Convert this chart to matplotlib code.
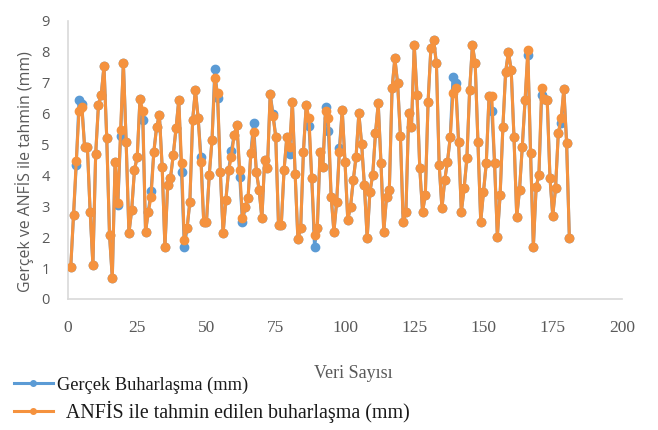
import matplotlib
matplotlib.use("Agg")
import matplotlib.pyplot as plt
import numpy as np

gercek = [
    1.03, 2.72, 4.35, 6.45, 6.30, 4.93, 4.93, 2.82, 1.10, 4.69,
    6.28, 6.61, 7.54, 5.20, 2.07, 0.67, 4.43, 3.05, 5.28, 7.65,
    5.09, 2.13, 2.88, 4.17, 4.61, 6.49, 5.80, 2.18, 2.82, 3.50,
    4.77, 5.57, 5.96, 4.28, 1.67, 3.69, 3.91, 4.66, 5.52, 6.44,
    4.10, 1.69, 2.29, 3.15, 5.79, 6.77, 5.85, 4.60,
    2.50, 2.50, 4.01, 5.15, 7.44, 6.50, 4.12, 2.12, 3.21, 4.17,
    4.80, 5.31, 5.63, 3.95, 2.48, 2.99, 3.26, 4.71, 5.70, 4.12,
    3.53, 2.61, 4.50, 4.23, 6.64, 6.00, 5.26, 2.40, 2.40, 4.17,
    5.24, 4.70, 6.39, 4.06, 1.93, 2.29, 4.77, 6.28, 5.60, 3.91,
    1.69, 2.29, 4.77, 4.28, 6.20, 5.45, 3.31, 2.18, 3.15, 4.90,
    6.12,
    4.45, 2.56, 2.99, 3.85, 4.61, 6.01, 5.03, 3.69, 1.96, 3.47,
    4.01, 5.36, 6.33, 4.39, 2.18, 3.31, 3.53, 6.82, 7.79, 6.98,
    5.28, 2.50, 2.82, 6.01, 5.57, 8.22, 6.61, 4.23, 2.82, 3.37,
    6.39, 8.11, 8.38, 7.63, 4.34, 2.93, 3.85, 4.45, 5.24, 7.20,
    7.00, 5.09, 2.82, 3.58, 4.56, 6.77, 8.22, 7.63, 5.09, 2.50,
    3.47, 4.39, 6.58, 6.07, 4.39, 2.02, 3.37, 5.57, 7.36, 8.00,
    7.41, 5.24, 2.66, 3.53, 4.93, 6.44, 7.90, 4.71, 1.69, 3.62,
    4.01, 6.60, 6.49, 6.44, 3.91, 2.70, 3.58, 5.36, 5.70, 6.79,
    5.06, 1.96,
]

anfis = [
    1.03, 2.72, 4.48, 6.07, 6.22, 4.93, 4.93, 2.82, 1.10, 4.69,
    6.28, 6.61, 7.54, 5.20, 2.07, 0.67, 4.43, 3.12, 5.47, 7.65,
    5.09, 2.13, 2.88, 4.17, 4.61, 6.49, 6.07, 2.18, 2.82, 3.31,
    4.77, 5.57, 5.96, 4.28, 1.67, 3.69, 3.91, 4.66, 5.52, 6.44,
    4.39, 1.91, 2.29, 3.15, 5.79, 6.77, 5.85, 4.45,
    2.50, 2.50, 4.01, 5.15, 7.14, 6.66, 4.12, 2.12, 3.21, 4.17,
    4.61, 5.31, 5.63, 4.17, 2.61, 2.99, 3.26, 4.71, 5.42, 4.12,
    3.53, 2.61, 4.50, 4.23, 6.64, 5.91, 5.26, 2.40, 2.40, 4.17,
    5.24, 4.93, 6.39, 4.06, 1.93, 2.29, 4.77, 6.28, 5.85, 3.91,
    2.07, 2.29, 4.77, 4.28, 6.07, 5.85, 3.31, 2.18, 3.15, 4.77,
    6.12,
    4.45, 2.56, 2.99, 3.85, 4.61, 6.01, 5.03, 3.69, 1.96, 3.47,
    4.01, 5.36, 6.33, 4.39, 2.18, 3.31, 3.53, 6.82, 7.79, 6.98,
    5.28, 2.50, 2.82, 6.01, 5.57, 8.22, 6.61, 4.23, 2.82, 3.37,
    6.39, 8.11, 8.38, 7.63, 4.34, 2.93, 3.85, 4.45, 5.24, 6.66,
    6.82, 5.09, 2.82, 3.58, 4.56, 6.77, 8.22, 7.63, 5.09, 2.50,
    3.47, 4.39, 6.58, 6.56, 4.39, 2.02, 3.37, 5.57, 7.36, 8.00,
    7.41, 5.24, 2.66, 3.53, 4.93, 6.44, 8.06, 4.71, 1.69, 3.62,
    4.01, 6.82, 6.49, 6.44, 3.91, 2.70, 3.58, 5.36, 5.85, 6.79,
    5.06, 1.96,
]

x_ticks = [0, 25, 50, 75, 100, 125, 150, 175, 200]
y_ticks = [0, 1, 2, 3, 4, 5, 6, 7, 8, 9]

label_gercek = "Gerçek Buharlaşma (mm)"
label_anfis = "  ANFİS ile tahmin edilen buharlaşma (mm)"

blue = "#5B9BD5"
orange = "#F5923E"
grey_txt = "#595959"

x = np.arange(1, len(anfis) + 1)

fig = plt.figure(figsize=(6.58, 4.30), dpi=100)
ax = fig.add_axes([0.1033, 0.3047, 0.842, 0.6465])

l1, = ax.plot(x, gercek, color=blue, lw=2.2, marker="o", ms=6, zorder=2)
l2, = ax.plot(x, anfis, color=orange, lw=2.2, marker="o", ms=6, zorder=3)

ax.set_xlim(0, 200)
ax.set_ylim(0, 9)
ax.set_xticks(x_ticks)
ax.set_yticks(y_ticks)
ax.set_xticklabels([str(t) for t in x_ticks], family="Liberation Serif",
                   fontsize=12.5, color=grey_txt)
ax.set_yticklabels([str(t) for t in y_ticks], family="Open Sans",
                   fontsize=10.5, color=grey_txt)
ax.tick_params(axis="x", length=0, pad=15)
ax.tick_params(axis="y", length=0, pad=13)

for s in ["top", "right"]:
    ax.spines[s].set_visible(False)
for s in ["left", "bottom"]:
    ax.spines[s].set_color("#D9D9D9")
    ax.spines[s].set_linewidth(1.2)

fig.text(25 / 658, 1 - 172 / 430, "Gerçek ve ANFİS ile tahmin (mm)",
         rotation=90, ha="center", va="center", family="Open Sans",
         fontsize=11.4, color=grey_txt)
fig.text(353 / 658, 1 - 373 / 430, "Veri Sayısı", ha="center", va="center",
         family="Liberation Serif", fontsize=13, color=grey_txt)

h1, = ax.plot([], [], color=blue, lw=2.2, marker="o", ms=4)
h2, = ax.plot([], [], color=orange, lw=2.2, marker="o", ms=4)
leg = fig.legend([h1, h2], [label_gercek, label_anfis], loc="upper left",
                 bbox_to_anchor=(0.0, 1 - 363 / 430), frameon=False,
                 prop={"family": "Liberation Serif", "size": 14},
                 handlelength=2.0, handletextpad=0.25, labelspacing=0.35,
                 borderpad=0.2)
texts = leg.get_texts()
texts[0].set_fontsize(13.2)
texts[1].set_fontsize(14.4)
for t in texts:
    t.set_color("#1a1a1a")

fig.savefig("out.png", dpi=100)
